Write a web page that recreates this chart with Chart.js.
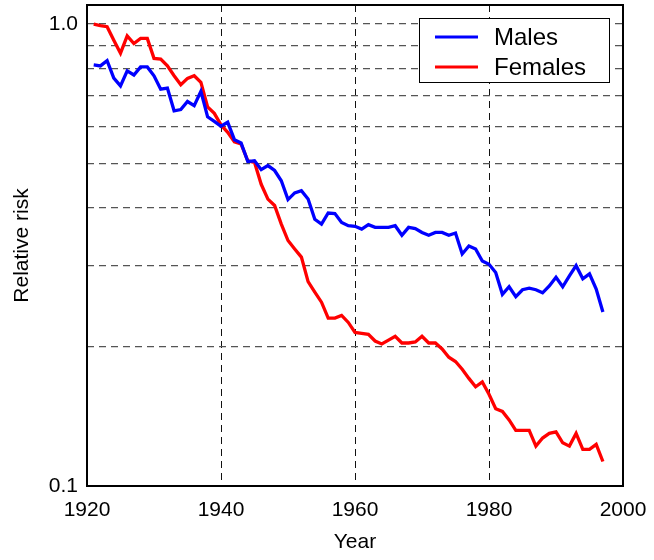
<!DOCTYPE html>
<html>
<head>
<meta charset="utf-8">
<script src="https://cdn.jsdelivr.net/npm/chart.js@4"></script>
<style>
  body { margin: 0; background: #fff; }
  #wrap { width: 654px; height: 560px; }
</style>
</head>
<body>
<div id="wrap"><canvas id="chart" width="654" height="560"></canvas></div>
<script>
// years 1921..1997
const years = [];
for (let y = 1921; y <= 1997; y++) years.push(y);

const males = [
  0.816, 0.812, 0.833, 0.764, 0.735, 0.792, 0.776, 0.808, 0.808, 0.773,
  0.723, 0.727, 0.649, 0.653, 0.680, 0.666, 0.715, 0.630, 0.616, 0.601,
  0.613, 0.562, 0.553, 0.504, 0.506, 0.484, 0.494, 0.482, 0.458, 0.417,
  0.431, 0.436, 0.418, 0.378, 0.369, 0.390, 0.389, 0.372, 0.366, 0.365,
  0.360, 0.368, 0.363, 0.363, 0.363, 0.366, 0.349, 0.363, 0.361, 0.354,
  0.349, 0.354, 0.354, 0.349, 0.353, 0.318, 0.331, 0.326, 0.307, 0.302,
  0.290, 0.260, 0.270, 0.257, 0.266, 0.268, 0.266, 0.262, 0.271, 0.283,
  0.270, 0.285, 0.300, 0.281, 0.288, 0.267, 0.238
];

const females = [
  1.000, 0.993, 0.987, 0.923, 0.865, 0.943, 0.908, 0.931, 0.931, 0.843,
  0.840, 0.812, 0.773, 0.739, 0.763, 0.773, 0.748, 0.662, 0.641, 0.605,
  0.583, 0.556, 0.550, 0.506, 0.502, 0.450, 0.418, 0.405, 0.369, 0.340,
  0.326, 0.313, 0.277, 0.263, 0.250, 0.231, 0.231, 0.234, 0.226, 0.215,
  0.214, 0.213, 0.206, 0.203, 0.207, 0.211, 0.204, 0.204, 0.205, 0.211,
  0.204, 0.204, 0.198, 0.190, 0.186, 0.179, 0.171, 0.164, 0.168, 0.158,
  0.147, 0.145, 0.139, 0.132, 0.132, 0.132, 0.122, 0.127, 0.130, 0.131,
  0.124, 0.122, 0.130, 0.120, 0.120, 0.123, 0.113
];

const xTicks = [1920, 1940, 1960, 1980, 2000];
const yTicks = [0.1, 0.2, 0.3, 0.4, 0.5, 0.6, 0.7, 0.8, 0.9, 1.0];
const yLabels = { '0.1': '0.1', '1': '1.0' };

const FONT = '"Liberation Sans", Arial, sans-serif';

const toPoints = vals => years.map((y, i) => ({ x: y, y: vals[i] }));

// full box around the plot
const frame = {
  id: 'frame',
  afterDatasetsDraw(chart) {
    const { ctx, chartArea: a } = chart;
    ctx.save();
    ctx.strokeStyle = '#000';
    ctx.lineWidth = 2;
    ctx.strokeRect(a.left, a.top, a.right - a.left, a.bottom - a.top);
    ctx.restore();
  }
};

// boxed legend in the upper right corner
const boxLegend = {
  id: 'boxLegend',
  afterDraw(chart) {
    const ctx = chart.ctx;
    const x0 = 419, y0 = 18, w = 190, h = 64;
    ctx.save();
    ctx.fillStyle = '#fff';
    ctx.fillRect(x0, y0, w, h);
    ctx.strokeStyle = '#000';
    ctx.lineWidth = 1;
    ctx.strokeRect(x0 + 0.5, y0 + 0.5, w, h);
    ctx.font = '24px ' + FONT;
    ctx.textBaseline = 'middle';
    chart.data.datasets.forEach((ds, i) => {
      const cy = y0 + 19 + i * 30;
      ctx.strokeStyle = ds.borderColor;
      ctx.lineWidth = 3;
      ctx.beginPath();
      ctx.moveTo(435, cy);
      ctx.lineTo(478, cy);
      ctx.stroke();
      ctx.fillStyle = '#000';
      ctx.fillText(ds.label, 494, cy + 1);
    });
    ctx.restore();
  }
};

new Chart(document.getElementById('chart'), {
  type: 'line',
  data: {
    datasets: [
      { label: 'Males', data: toPoints(males), borderColor: '#0000ff', borderWidth: 3.3, pointRadius: 0, tension: 0 },
      { label: 'Females', data: toPoints(females), borderColor: '#ff0000', borderWidth: 3.3, pointRadius: 0, tension: 0 }
    ]
  },
  options: {
    responsive: false,
    animation: false,
    layout: { padding: { top: 5, right: 31, left: 0, bottom: 0 } },
    plugins: { legend: { display: false }, tooltip: { enabled: false } },
    scales: {
      x: {
        type: 'linear',
        min: 1920,
        max: 2000,
        afterBuildTicks: s => { s.ticks = xTicks.map(v => ({ value: v })); },
        afterFit: s => { s.height = 74; s.paddingLeft = 0; s.paddingRight = 0; },
        ticks: { color: '#000', font: { size: 21, family: FONT }, padding: 12, maxRotation: 0, callback: v => String(v) },
        grid: { color: '#111', lineWidth: 1, drawTicks: false },
        border: { display: false, dash: [7, 5] },
        title: { display: true, text: 'Year', color: '#000', font: { size: 21, family: FONT }, padding: { bottom: 5 } }
      },
      y: {
        type: 'logarithmic',
        min: 0.1,
        max: 1.1,
        afterBuildTicks: s => { s.ticks = yTicks.map(v => ({ value: v })); },
        afterFit: s => { s.width = 87; s.paddingTop = 0; s.paddingBottom = 0; },
        ticks: {
          color: '#000',
          font: { size: 21, family: FONT },
          padding: 9,
          callback: v => yLabels[String(Math.round(v * 10) / 10)] || ''
        },
        grid: { color: '#555', lineWidth: 1.3, drawTicks: false },
        border: { display: false, dash: [7, 5] },
        title: { display: true, text: 'Relative risk', color: '#000', font: { size: 21, family: FONT }, padding: { top: 10 } }
      }
    }
  },
  plugins: [frame, boxLegend]
});
</script>
</body>
</html>
